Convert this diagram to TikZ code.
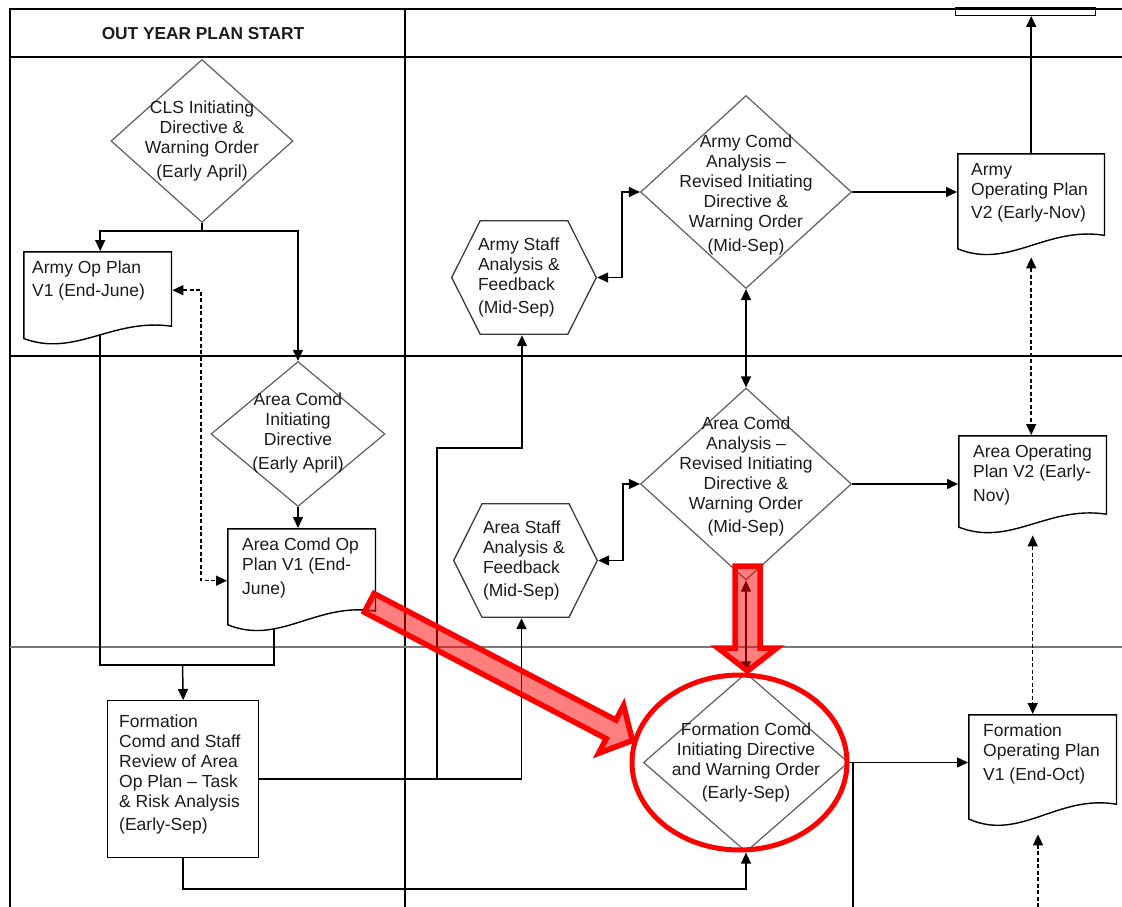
\documentclass[tikz,border=0pt]{standalone}
\usepackage{fontspec}
\setmainfont{Liberation Sans}
\usetikzlibrary{shapes.geometric,arrows.meta,calc,backgrounds}

\definecolor{ink}{HTML}{1C1C1C}
\definecolor{diagray}{HTML}{5E5E5E}
\definecolor{lanegray}{HTML}{7A7A7A}
\definecolor{hexgray}{HTML}{3A3A3A}

% text block for document shapes: width, height, left indent, text
\newcommand\doctxt[4]{\parbox[t][#2pt][t]{#1pt}{\raggedright\leftskip=#3pt\relax #4}}
% text block for hexagons: width, text
\newcommand\hextxt[2]{\parbox{#1pt}{\raggedright #2}}
% text for decision diamonds, taking no room so the diamond keeps its size
\newcommand\diatxt[2][-4.4]{\smash{\makebox[0pt]{\raisebox{#1pt}{\parbox{230pt}{\centering #2}}}}}

\begin{document}
\begin{tikzpicture}[x=1pt,y=-1pt,
  every node/.style={font=\fontsize{17.5}{20}\selectfont, text=ink},
  tip/.tip={Triangle[length=11pt,width=10pt]},
  conn/.style={draw=black, line width=1.5pt},
  arr/.style={conn, -tip},
  arrboth/.style={conn, tip-tip},
  dsh/.style={dash pattern=on 4pt off 2.5pt},
  lane/.style={draw=black, line width=1.5pt},
  dia/.style={diamond, draw=diagray, line width=1.2pt, fill=white, inner sep=0pt},
  docnode/.style={rectangle, inner xsep=0pt, inner ysep=10pt, anchor=north west,
    path picture={
      \draw[black, line width=1.4pt, fill=white]
        let \p1=(path picture bounding box.north west),
            \p2=(path picture bounding box.south east) in
        ({\x1+0.7pt},{\y1-0.7pt}) -- ({\x2-0.7pt},{\y1-0.7pt})
        -- ({\x2-0.7pt},{0.21*\y1+0.79*\y2})
        .. controls ({0.4*\x1+0.6*\x2},{0.3*\y1+0.7*\y2})
           and ({0.65*\x1+0.35*\x2},{-0.12*\y1+1.12*\y2})
        .. ({\x1+0.7pt},{0.08*\y1+0.92*\y2}) -- cycle;
    }},
  hexnode/.style={rectangle, inner sep=0pt,
    path picture={
      \draw[hexgray, line width=1.3pt, fill=white]
        let \p1=(path picture bounding box.north west),
            \p2=(path picture bounding box.south east) in
        ({0.8*\x1+0.2*\x2},{\y1-0.7pt}) -- ({0.2*\x1+0.8*\x2},{\y1-0.7pt})
        -- ({\x2-0.7pt},{0.5*\y1+0.5*\y2})
        -- ({0.2*\x1+0.8*\x2},{\y2+0.7pt}) -- ({0.8*\x1+0.2*\x2},{\y2+0.7pt})
        -- ({\x1+0.7pt},{0.5*\y1+0.5*\y2}) -- cycle;
    }},
  redarrow/.style={draw=red, line width=5.5pt, line join=miter, fill=red, fill opacity=0.5},
  redring/.style={draw=red, line width=5pt}
]
\useasboundingbox (0,0) rectangle (1122,907);

% ---- header
\node[font=\fontsize{17.3}{20}\selectfont\bfseries] (hdr) at (203,34) {OUT YEAR PLAN START};

% ---- decisions
\node[dia, minimum width=182pt, minimum height=163pt] (cls) at (202,141)
  {\diatxt{CLS Initiating\\Directive \&\\Warning Order\\[3.5pt](Early April)}};
\node[dia, minimum width=174pt, minimum height=145pt] (areainit) at (298,434)
  {\diatxt[-3.4]{Area Comd\\Initiating\\Directive\\[3.5pt](Early April)}};
\node[dia, minimum width=211pt, minimum height=193pt] (armycomd) at (746,192)
  {\diatxt[-7.4]{Army Comd\\Analysis –\\Revised Initiating\\Directive \&\\Warning Order\\[3.5pt](Mid-Sep)}};
\node[dia, minimum width=211pt, minimum height=192pt] (areacomd) at (746,484)
  {\diatxt[3.1]{Area Comd\\Analysis –\\Revised Initiating\\Directive \&\\Warning Order\\[3.5pt](Mid-Sep)}};
\node[dia, minimum width=205pt, minimum height=179pt] (formcomd) at (746,762.5)
  {\diatxt[-4.4]{Formation Comd\\Initiating Directive\\and Warning Order\\[3.5pt](Early-Sep)}};

% ---- staff analysis
\node[hexnode, minimum width=146pt, minimum height=115pt] (armystaff) at (524,277.5)
  {\hextxt{92}{Army Staff\\Analysis \&\\Feedback\\[3.5pt](Mid-Sep)}};
\node[hexnode, minimum width=145pt, minimum height=115pt] (areastaff) at (525.5,560.5)
  {\hextxt{85}{Area Staff\\Analysis \&\\Feedback\\[3.5pt](Mid-Sep)}};

% ---- plans
\node[docnode] (armyv1) at (23,251) {\doctxt{149}{75}{9}{Army Op Plan\\[3pt]V1 (End-June)}};
\node[docnode] (areav1) at (227,528) {\doctxt{149}{85}{15}{Area Comd Op\\Plan V1 (End-\\[3.5pt]June)}};
\node[docnode] (armyv2) at (957,153) {\doctxt{148}{84}{14}{Army\\Operating Plan\\[3.5pt]V2 (Early-Nov)}};
\node[docnode] (areav2) at (958,435) {\doctxt{149}{80}{15}{Area Operating\\Plan V2 (Early-\\[3.5pt]Nov)}};
\node[docnode] (formv1) at (968,714) {\doctxt{149}{94}{15}{Formation\\Operating Plan\\[3.5pt]V1 (End-Oct)}};

% ---- review box
\node[rectangle, draw=black, line width=1.4pt, fill=white, inner xsep=0pt, inner ysep=14pt,
      anchor=north west] (formbox) at (107,700)
  {\doctxt{151}{129}{11.5}{Formation\\Comd and Staff\\Review of Area\\Op Plan – Task\\\& Risk Analysis\\[3.5pt](Early-Sep)}};

% ---- box above the top edge
\node[rectangle, draw=black, line width=1.4pt, minimum width=140pt, minimum height=8pt,
      inner sep=0pt, anchor=south west] (topbox) at (955,16) {};

\begin{pgfonlayer}{background}
  % swim lanes
  \draw[lane] (10,907) -- (10,9) -- (1122,9);
  \draw[lane] (405,9) -- (405,907);
  \draw[lane] (10,57) -- (1122,57);
  \draw[lane] (10,356) -- (1122,356);
  \draw[lane, draw=lanegray, line width=2pt] (10,647) -- (1122,647);

  % connectors
  \coordinate (j1) at (202,231);
  \draw[conn] (cls.south) -- (j1);
  \draw[arr] (j1) -| ([xshift=2.5pt]armyv1.north);
  \draw[arr] (j1) -| (areainit.north);

  \coordinate (dv) at (201,0);
  \draw[arrboth, dsh] ([yshift=8.5pt]armyv1.east) -| (dv |- areav1.west) -- (areav1.west);

  \draw[arr] (areainit.south) -- (areainit.south |- areav1.north);

  \coordinate (j2) at (182.5,665);
  \draw[conn] ([xshift=2.5pt]armyv1.center) |- (j2) -| ([xshift=-27.5pt]areav1.center);
  \draw[arr] (j2) -- (formbox.north);

  \coordinate (j3) at (437,448);
  \draw[arr] (formbox.east) -| ([xshift=-4pt]areastaff.south);
  \draw[arr] (formbox.east -| j3) -- (j3) -| ([xshift=-2pt]armystaff.south);

  \draw[arrboth] (armystaff.east) -- ++(25,0) |- (armycomd.west);
  \draw[arrboth] (areastaff.east) -- ++(25,0) |- (areacomd.west);

  \draw[arr] (armycomd.east) -- (armycomd.east -| armyv2.west);
  \draw[arr] (areacomd.east) -- (areacomd.east -| areav2.west);
  \draw[arrboth] (armycomd.south) -- (areacomd.north);
  \draw[arrboth] (areacomd.south) -- (formcomd.north);

  \draw[arr] (armyv2.north) -- (armyv2.north |- topbox.south);
  \draw[arrboth, dsh] (armyv2.south) -- (armyv2.south |- areav2.north);
  \draw[arrboth, dsh] (areav2.south) -- (areav2.south |- formv1.north);
  \coordinate (b1) at (1038,907);
  \draw[arr, dsh] (b1) -- ($(b1 |- formv1.south)+(0,6)$);

  \draw[arr] (formcomd.east) -- (formcomd.east -| formv1.west);
  \coordinate (j6) at (853,762.5);
  \coordinate (b2) at (853,907);
  \draw[conn] (j6) -- (b2);

  \coordinate (j7) at (0,889);
  \draw[arr] (formbox.south) -- (formbox.south |- j7) -| (formcomd.south);
\end{pgfonlayer}

% ---- highlight marks
\draw[redring] (739.5,762.5) ellipse [x radius=107.5pt, y radius=87.5pt];
\draw[redarrow] (735,566) -- (760,566) -- (760,648) -- (777,648) -- (747.5,671)
  -- (718,648) -- (735,648) -- cycle;
\begin{scope}[shift={(366.5,601.5)}, rotate=-27.6]
  \draw[redarrow] (3,-10.5) -- (276,-10.5) -- (276,-27) -- (300,0) -- (276,27)
    -- (276,10.5) -- (3,10.5) -- cycle;
\end{scope}
\end{tikzpicture}
\end{document}
